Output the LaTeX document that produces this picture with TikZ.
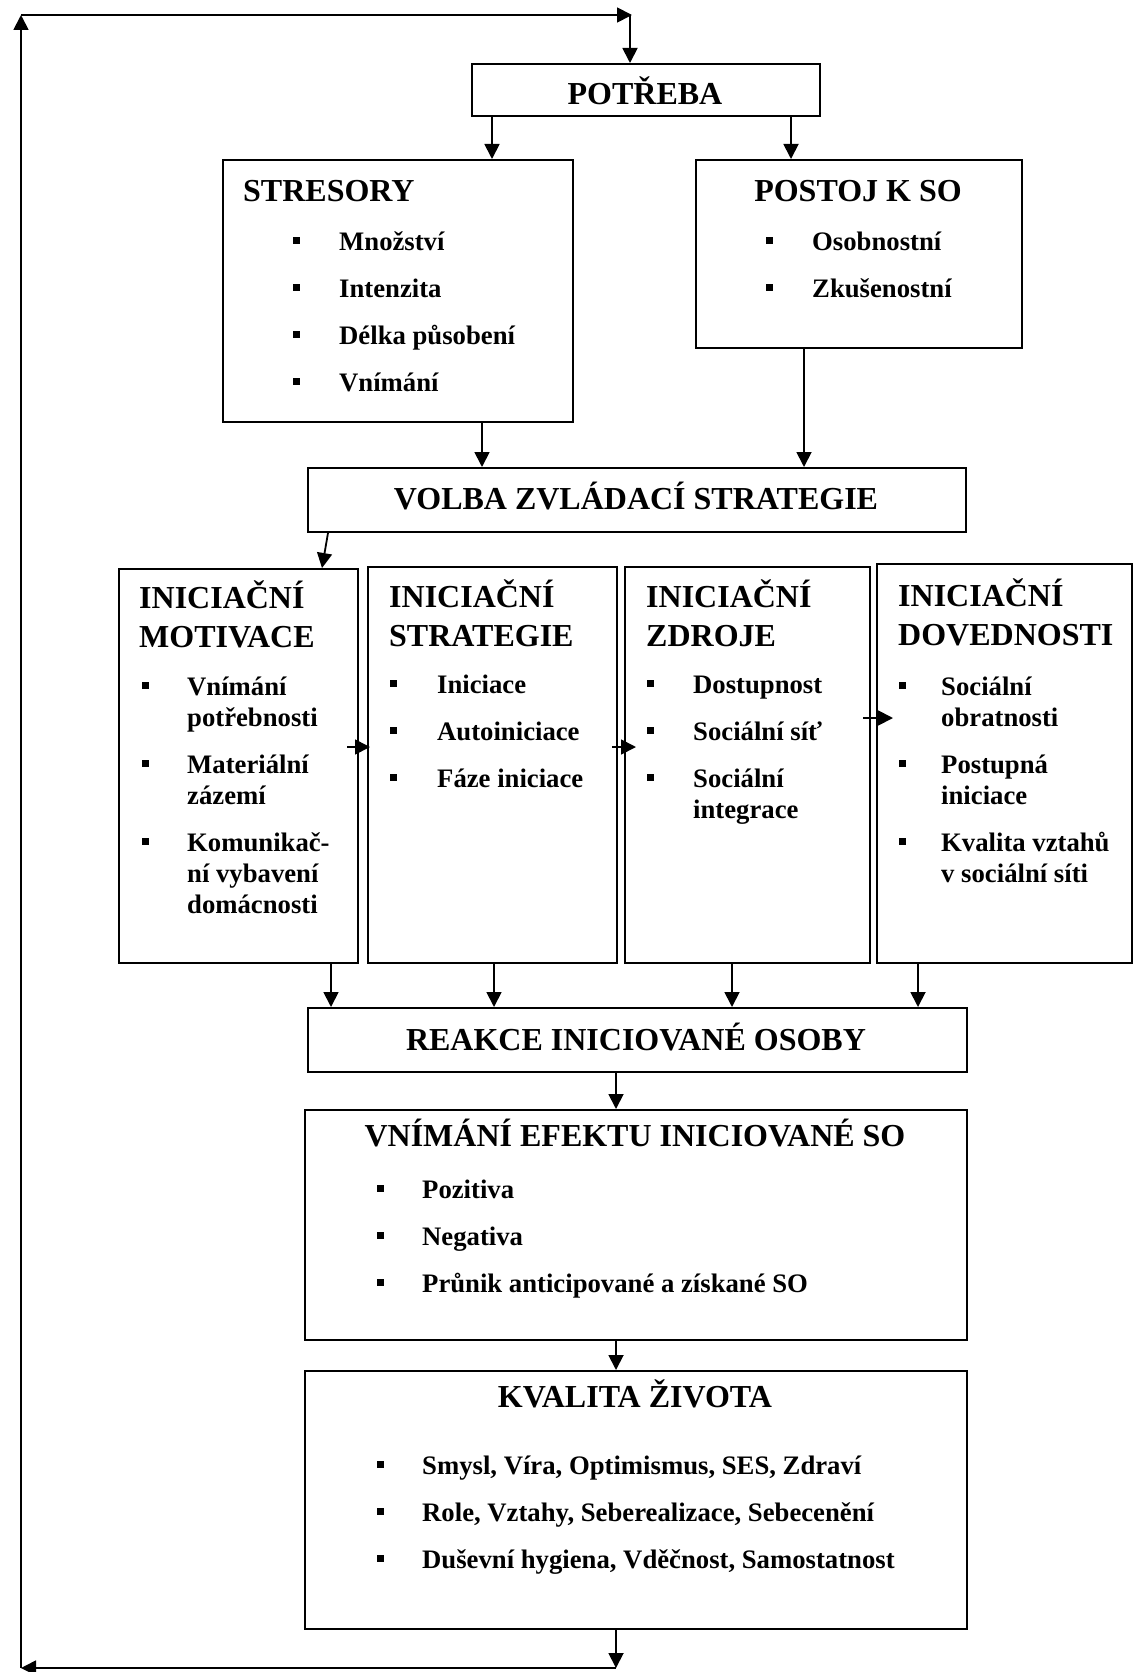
\documentclass[tikz,border=0pt]{standalone}
\usepackage{fontspec}
\setmainfont{Liberation Serif}
\usetikzlibrary{arrows.meta}

\newcommand{\blt}{\rule[6pt]{7pt}{7pt}}
\newcommand{\ttl}[1]{\begin{tabular}[t]{@{}l@{}}#1\end{tabular}}
\newcommand{\itm}[2]{\begin{tabular}[t]{@{}p{#1pt}@{}l@{}}#2\end{tabular}}

\tikzset{
  box/.style={draw, line width=2pt, inner sep=0pt, anchor=north west},
  ttext/.style={inner sep=0pt, font=\fontsize{32}{39}\selectfont\bfseries},
  itext/.style={inner sep=0pt, anchor=base west, font=\fontsize{26.7}{31}\selectfont\bfseries},
  arr/.style={line width=1.8pt, -{Triangle[length=15pt,width=15pt]}}
}

\begin{document}
\begin{tikzpicture}[x=1pt,y=-1pt]
\useasboundingbox (0,0) rectangle (1133,1672);
% boxes
\node[box, minimum width=348pt, minimum height=52pt] (potreba) at (471,63) {};
\node[box, minimum width=350pt, minimum height=262pt] (stres) at (222,159) {};
\node[box, minimum width=326pt, minimum height=188pt] (postoj) at (695,159) {};
\node[box, minimum width=658pt, minimum height=64pt] (volba) at (307,467) {};
\node[box, minimum width=239pt, minimum height=394pt] (motiv) at (118,568) {};
\node[box, minimum width=249pt, minimum height=396pt] (strat) at (367,566) {};
\node[box, minimum width=245pt, minimum height=396pt] (zdroje) at (624,566) {};
\node[box, minimum width=255pt, minimum height=399pt] (doved) at (876,563) {};
\node[box, minimum width=659pt, minimum height=64pt] (reakce) at (307,1007) {};
\node[box, minimum width=662pt, minimum height=230pt] (efekt) at (304,1109) {};
\node[box, minimum width=662pt, minimum height=258pt] (kval) at (304,1370) {};

% titles
\node[ttext, anchor=base] (tpotreba) at (645,105) {POTŘEBA};
\node[ttext, anchor=base west] (tstres) at (243,201) {STRESORY};
\node[ttext, anchor=base] (tpostoj) at (858,201) {POSTOJ K SO};
\node[ttext, anchor=base] (tvolba) at (636,509) {VOLBA ZVLÁDACÍ STRATEGIE};
\node[ttext, anchor=base west] (tmotiv) at (139,608) {\ttl{INICIAČNÍ\\MOTIVACE}};
\node[ttext, anchor=base west] (tstrat) at (389,607) {\ttl{INICIAČNÍ\\STRATEGIE}};
\node[ttext, anchor=base west] (tzdroje) at (646,607) {\ttl{INICIAČNÍ\\ZDROJE}};
\node[ttext, anchor=base west] (tdoved) at (898,606) {\ttl{INICIAČNÍ\\DOVEDNOSTI}};
\node[ttext, anchor=base] (treakce) at (636,1050) {REAKCE INICIOVANÉ OSOBY};
\node[ttext, anchor=base] (tefekt) at (635,1146) {VNÍMÁNÍ EFEKTU INICIOVANÉ SO};
\node[ttext, anchor=base] (tkval) at (635,1407) {KVALITA ŽIVOTA};

% items
\node[itext] (istres) at (293,250) {\itm{46}{\blt & Množství\\[16pt] \blt & Intenzita\\[16pt]
  \blt & Délka působení\\[16pt] \blt & Vnímání}};
\node[itext] (ipostoj) at (766,250) {\itm{46}{\blt & Osobnostní\\[16pt] \blt & Zkušenostní}};
\node[itext] (imotiv) at (142,695) {\itm{45}{\blt & Vnímání\\ & potřebnosti\\[16pt]
  \blt & Materiální\\ & zázemí\\[16pt] \blt & Komunikač-\\ & ní vybavení\\ & domácnosti}};
\node[itext] (istrat) at (390,693) {\itm{47}{\blt & Iniciace\\[16pt] \blt & Autoiniciace\\[16pt]
  \blt & Fáze iniciace}};
\node[itext] (izdroje) at (647,693) {\itm{46}{\blt & Dostupnost\\[16pt] \blt & Sociální síť\\[16pt]
  \blt & Sociální\\ & integrace}};
\node[itext] (idoved) at (899,695) {\itm{42}{\blt & Sociální\\ & obratnosti\\[16pt]
  \blt & Postupná\\ & iniciace\\[16pt] \blt & Kvalita vztahů\\ & v sociální síti}};
\node[itext] (iefekt) at (377,1198) {\itm{45}{\blt & Pozitiva\\[16pt] \blt & Negativa\\[16pt]
  \blt & Průnik anticipované a získané SO}};
\node[itext] (ikval) at (377,1474) {\itm{45}{\blt & Smysl, Víra, Optimismus, SES, Zdraví\\[16pt]
  \blt & Role, Vztahy, Seberealizace, Sebecenění\\[16pt]
  \blt & Duševní hygiena, Vděčnost, Samostatnost}};

% columns and corners of the connectors
\coordinate (xtop) at (630,0);
\coordinate (xpl) at (492,0);
\coordinate (xpr) at (791,0);
\coordinate (xsl) at (482,0);
\coordinate (xsr) at (804,0);
\coordinate (xvs) at (328,0);
\coordinate (xve) at (322,0);
\coordinate (xmid) at (616,0);
\coordinate (hm) at (347,747);
\coordinate (hs) at (612,747);
\coordinate (hz) at (863,718);
\coordinate (lt) at (21,15);
\coordinate (rt) at (632,15);
\coordinate (lb) at (21,1668);
\coordinate (bm) at (616,1668);

\draw[arr] (lt -| xtop) -- (potreba.north -| xtop);
\draw[arr] (potreba.south -| xpl) -- (stres.north -| xpl);
\draw[arr] (potreba.south -| xpr) -- (postoj.north -| xpr);
\draw[arr] (stres.south -| xsl) -- (volba.north -| xsl);
\draw[arr] (postoj.south -| xsr) -- (volba.north -| xsr);
\draw[arr] (volba.south -| xvs) -- (motiv.north -| xve);
\draw[arr, shorten >=-3pt] (hm) -- (strat.west |- hm);
\draw[arr, shorten >=-12pt] (hs) -- (zdroje.west |- hs);
\draw[arr, shorten >=-17pt] (hz) -- (doved.west |- hz);
\foreach \b/\x in {motiv/331, strat/494, zdroje/732, doved/918} {
  \coordinate (d\b) at (\x,0);
  \draw[arr] (\b.south -| d\b) -- (reakce.north -| d\b);
}
\draw[arr] (reakce.south -| xmid) -- (efekt.north -| xmid);
\draw[arr] (efekt.south -| xmid) -- (kval.north -| xmid);
\draw[arr] (kval.south -| xmid) -- (bm);
% feedback loop
\draw[arr] (bm) -- (lb);
\draw[arr] (lb) -- (lt);
\draw[arr] (lt) -- (rt);
\end{tikzpicture}
\end{document}
